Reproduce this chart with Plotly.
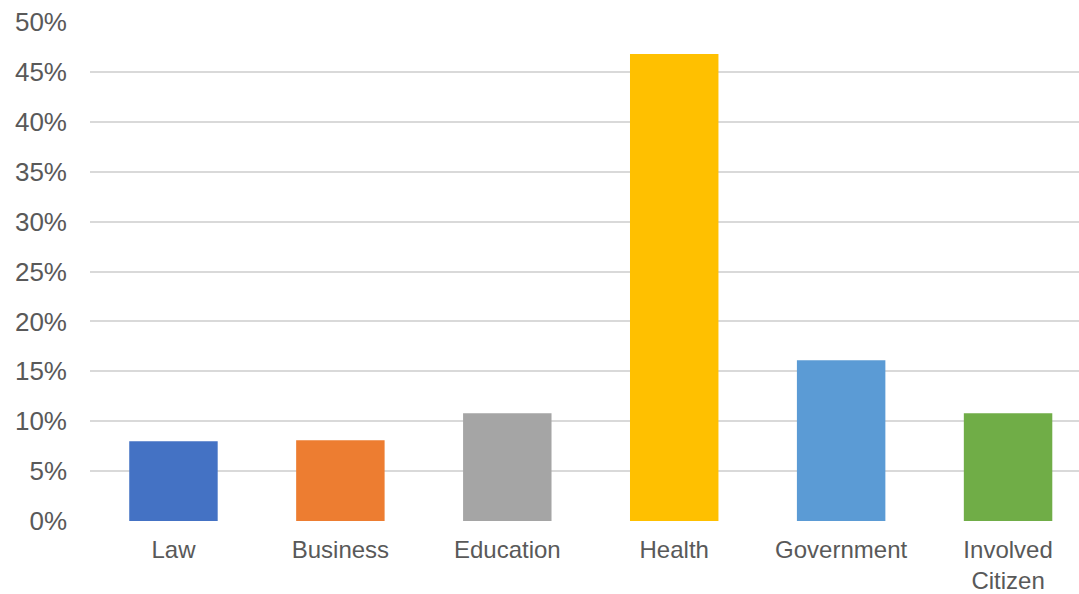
import plotly.graph_objects as go

categories = ["Law", "Business", "Education", "Health", "Government", "Involved<br>Citizen"]
shares = [0.080, 0.081, 0.108, 0.468, 0.161, 0.108]
bar_colors = ["#4472C4", "#ED7D31", "#A5A5A5", "#FFC000", "#5B9BD5", "#70AD47"]
y_ticks = [0, 0.05, 0.10, 0.15, 0.20, 0.25, 0.30, 0.35, 0.40, 0.45, 0.50]

fig = go.Figure(
    go.Bar(
        x=list(range(len(categories))),
        y=shares,
        marker=dict(color=bar_colors, line=dict(width=0)),
        width=0.53,
    )
)

fig.update_layout(
    width=1079,
    height=594,
    margin=dict(l=90, r=0, t=22, b=73),
    paper_bgcolor="white",
    plot_bgcolor="white",
    showlegend=False,
    font=dict(family="Liberation Sans, Arial, sans-serif", size=26, color="#595959"),
)

fig.update_xaxes(
    tickmode="array",
    tickvals=list(range(len(categories))),
    ticktext=categories,
    tickfont=dict(size=24),
    range=[-0.5, 5.425],
    showgrid=False,
    zeroline=False,
    showline=False,
    ticks="",
    ticklabelstandoff=12,
    automargin=False,
)

fig.update_yaxes(
    range=[0, 0.5],
    tickmode="array",
    tickvals=y_ticks,
    tickformat=".0%",
    showgrid=True,
    gridcolor="#D9D9D9",
    gridwidth=1.5,
    zeroline=False,
    showline=False,
    ticks="",
    ticklabelstandoff=22,
    automargin=False,
)

fig.write_html("out.html")
